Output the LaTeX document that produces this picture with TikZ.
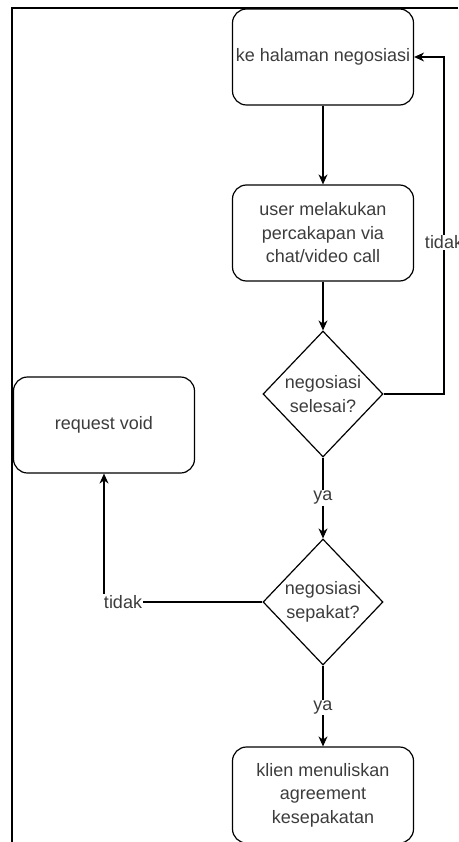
\documentclass[tikz,border=0pt]{standalone}
\usepackage{fontspec}
\setmainfont{Liberation Sans}
\usetikzlibrary{shapes.geometric,arrows.meta}
\definecolor{txtgray}{RGB}{60,60,60}
\begin{document}
\begin{tikzpicture}[x=1pt,y=-1pt,
    step box/.style={draw,rounded corners=14pt,line width=1.2pt,minimum width=181pt,minimum height=96pt,align=center,text=txtgray,font=\fontsize{18}{23.5}\selectfont},
    decision/.style={draw,diamond,line width=1.2pt,minimum width=120pt,minimum height=126pt,inner sep=0pt,align=center,text=txtgray,font=\fontsize{18}{23.5}\selectfont},
    flow/.style={line width=1.2pt,-{Stealth[length=10pt,width=9pt]}},
    lbl/.style={fill=white,inner sep=1pt,text=txtgray,font=\fontsize{18}{22}\selectfont}]
    \useasboundingbox (0,0) rectangle (458,842);
    \draw[line width=1.6pt] (458,8) -- (12,8) -- (12,842);

    \node[step box] (halaman) at (323,57) {ke halaman negosiasi};
    \node[step box] (chat) at (323,233) {user melakukan\\percakapan via\\chat/video call};
    \node[decision] (selesai) at (323,394) {negosiasi\\selesai?};
    \node[step box] (void) at (104,425) {request void};
    \node[decision] (sepakat) at (323,602) {negosiasi\\sepakat?};
    \node[step box] (agreement) at (323,795) {klien menuliskan\\agreement\\kesepakatan};
    \coordinate (loop) at (444,394);

    \draw[flow] (halaman) -- (chat);
    \draw[flow] (chat) -- (selesai);
    \draw[flow] (selesai.south) -- node[lbl] {ya} (sepakat.north);
    \draw[flow] (sepakat.south) -- node[lbl,pos=0.52] {ya} (agreement.north);
    \draw[flow] (selesai.east) -- (loop) |- node[lbl,pos=0.225] {tidak} (halaman.east);
    \draw[flow] (sepakat.west) -| node[lbl,pos=0.44] {tidak} (void.south);
  \end{tikzpicture}
\end{document}
